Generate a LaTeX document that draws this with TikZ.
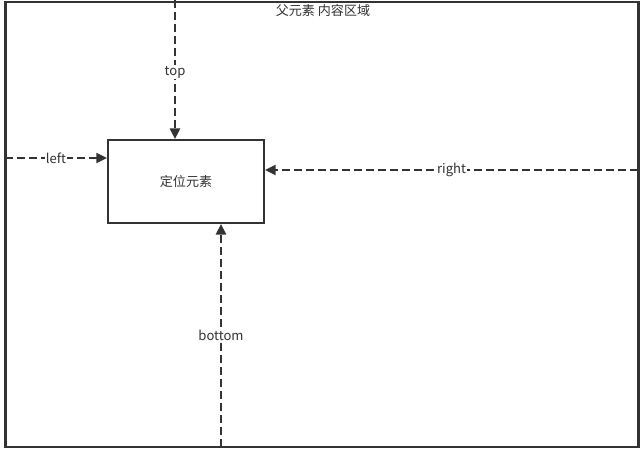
\documentclass[tikz,border=0pt]{standalone}
\usepackage{fontspec}
\setmainfont{Noto Sans CJK SC}
\usetikzlibrary{arrows.meta}
\definecolor{ink}{HTML}{333333}
\tikzset{
  frame/.style={draw=ink, line width=1.6pt},
  dashline/.style={draw=ink, line width=1.6pt, dash pattern=on 5.8pt off 3.2pt, -{Triangle[length=8pt,width=7.5pt]}},
  lbl/.style={fill=white, text=ink, font=\fontsize{9.8}{12}\selectfont, inner sep=0.8pt},
  txt/.style={text=ink, font=\fontsize{9.8}{12}\selectfont},
}
\begin{document}
\begin{tikzpicture}[x=0.75pt,y=-0.75pt]
\useasboundingbox (0,0) rectangle (644,451);
\fill[white] (0,0) rectangle (644,451);
\draw[frame] (5.5,2) rectangle (638.5,447);
\node[txt] (title) at (323,11) {父元素 内容区域};
\node[frame, minimum width=117pt, minimum height=62pt, inner sep=0pt, txt] (box) at (186,181.5) {定位元素};
\coordinate (ts) at (175,0);
\coordinate (ls) at (5,158);
\coordinate (rs) at (638,170);
\coordinate (bs) at (221,447);
\draw[dashline] (ts) -- (box.north -| ts) node[lbl, pos=0.52] {top};
\draw[dashline] (ls) -- (box.west |- ls) node[lbl, pos=0.5] {left};
\draw[dashline] (rs) -- (box.east |- rs) node[lbl, pos=0.5] {right};
\draw[dashline] (bs) -- (box.south -| bs) node[lbl, pos=0.5] {bottom};
\end{tikzpicture}
\end{document}
